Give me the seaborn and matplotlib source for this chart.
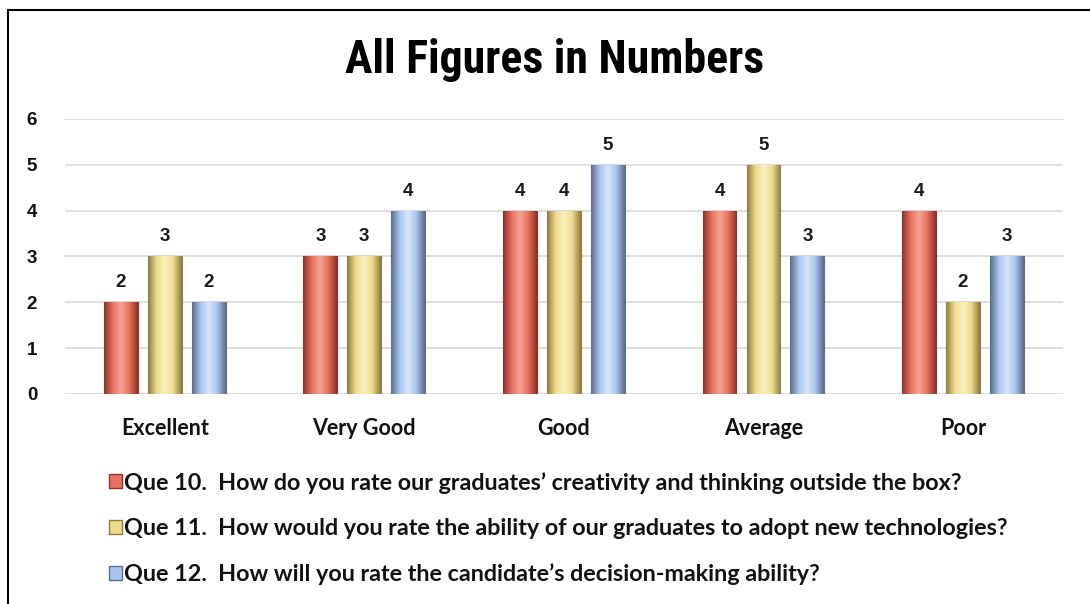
import numpy as np
import pandas as pd
import matplotlib.pyplot as plt
import seaborn as sns
from matplotlib.colors import LinearSegmentedColormap
from matplotlib.lines import Line2D
from matplotlib.patches import Patch

# Data
categories = ["Excellent", "Very Good", "Good", "Average", "Poor"]
questions = [
    "Que 10.  How do you rate our graduates\u2019 creativity and thinking outside the box?",
    "Que 11.  How would you rate the ability of our graduates to adopt new technologies?",
    "Que 12.  How will you rate the candidate\u2019s decision-making ability?",
]
q10 = [2, 3, 4, 4, 4]
q11 = [3, 3, 4, 5, 2]
q12 = [2, 4, 5, 3, 3]
colors = ["#E8705E", "#EEDB8E", "#A8C4EE"]
dark = ["#8E3328", "#8E7C3E", "#5B6E8E"]
light = ["#F6A496", "#FBF0BE", "#D8E6FA"]

df = pd.DataFrame({
    "Rating": categories * 3,
    "Count": q10 + q11 + q12,
    "Question": [questions[0]] * 5 + [questions[1]] * 5 + [questions[2]] * 5,
})

sns.set_theme(style="white")
plt.rcParams['font.family'] = ['Liberation Sans', 'DejaVu Sans']
plt.rcParams['text.color'] = '#111111'
plt.rcParams['xtick.color'] = '#111111'
plt.rcParams['ytick.color'] = '#111111'

fig = plt.figure(figsize=(10.9, 6.04), dpi=100)
ax = fig.add_axes([0.0596, 0.3477, 0.9154, 0.4553])

sns.barplot(data=df, x="Rating", y="Count", hue="Question", palette=colors,
            width=0.66, gap=0.23, ax=ax, legend=False, zorder=3)

# bevelled look: gradient fill clipped to each bar
for i, cont in enumerate(ax.containers):
    cmap = LinearSegmentedColormap.from_list("b", [dark[i], colors[i], light[i], colors[i], dark[i]])
    for p in cont.patches:
        x0, y0 = p.get_x(), p.get_y()
        w, h = p.get_width(), p.get_height()
        grad = np.linspace(0, 1, 64).reshape(1, -1)
        im = ax.imshow(grad, cmap=cmap, extent=[x0, x0 + w, y0, y0 + h],
                       aspect="auto", zorder=4, interpolation="bicubic")
        im.set_clip_path(p)
        p.set_edgecolor(dark[i])
        p.set_linewidth(0.8)
    ax.bar_label(cont, padding=8, fontsize=13.5, fontweight="bold", color="#1a1a1a", zorder=5)

ax.set_xlim(-0.5, 4.5)
ax.set_ylim(0, 6)
ax.set_yticks(range(7))
ax.yaxis.grid(True, color="#D9D9D9", linewidth=1.2, zorder=0)
ax.xaxis.grid(False)
for s in ax.spines.values():
    s.set_visible(False)
ax.set_xlabel("")
ax.set_ylabel("")
ax.tick_params(axis="y", length=0, pad=20, labelsize=13.5)
ax.tick_params(axis="x", length=0, pad=17, labelsize=15.5)
for t in ax.get_yticklabels():
    t.set_fontweight("bold")
for t in ax.get_xticklabels():
    t.set_fontweight("bold")
    t.set_family(["Lato", "DejaVu Sans"])

fig.text(0.509, 0.9, "All Figures in Numbers", ha="center", va="center",
         fontsize=33, fontweight="bold", fontstretch="condensed", color="black",
         family=["Liberation Sans Narrow", "Roboto Condensed", "DejaVu Sans"])

handles = [Patch(facecolor=colors[i], edgecolor=dark[i]) for i in range(3)]
fig.legend(handles, questions, loc="upper left", bbox_to_anchor=(0.0805, 0.2535),
           frameon=False, handlelength=0.55, handleheight=0.55, handletextpad=0.12,
           labelspacing=1.05, prop={"family": ["Lato", "DejaVu Sans"], "weight": "bold", "size": 16.8})

# frame lines at top and left
fig.add_artist(Line2D([0.007, 1.0], [0.983, 0.983], color="black", linewidth=1.5))
fig.add_artist(Line2D([0.007, 0.007], [0.0, 0.983], color="black", linewidth=1.5))

fig.savefig("out.png", dpi=100)
